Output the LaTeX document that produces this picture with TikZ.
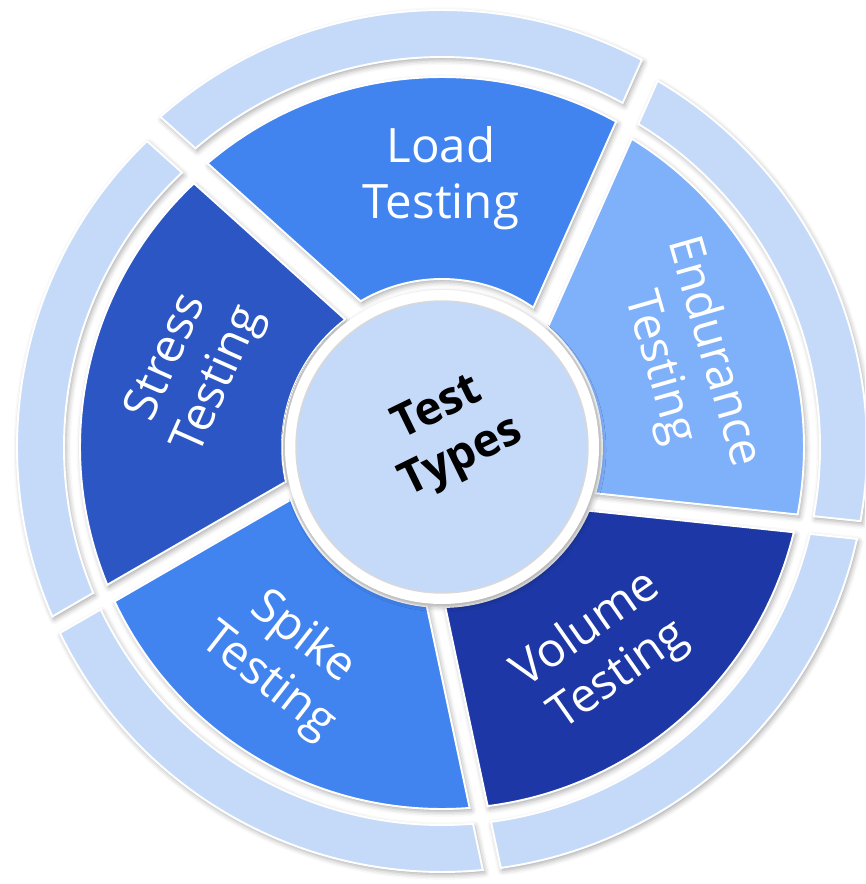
\documentclass[tikz,border=0pt]{standalone}
\usepackage{fontspec}
\setmainfont{Open Sans}
\usepackage{xcolor}
\usepackage{tikz}
\usetikzlibrary{shadows.blur}

\definecolor{ringblue}{RGB}{197,218,248}
\definecolor{loadblue}{RGB}{65,132,240}
\definecolor{endblue}{RGB}{127,176,250}
\definecolor{volblue}{RGB}{29,56,166}
\definecolor{stressblue}{RGB}{43,86,196}

% the five cuts are straight lines passing 39 units from the centre;
% each part keeps half of an 18 unit gap on either side
\newcommand{\cutlo}{30}
\newcommand{\cuthi}{48}
% #1 = index of the part, #2 = inner radius, #3 = outer radius
\newcommand{\ringpiece}[3]{%
  ({-24+72*#1+acos(\cutlo/#2)}:#2)
  -- ({-24+72*#1+acos(\cutlo/#3)}:#3)
  arc[start angle={-24+72*#1+acos(\cutlo/#3)}, end angle={48+72*#1+acos(\cuthi/#3)}, radius=#3]
  -- ({48+72*#1+acos(\cuthi/#2)}:#2)
  arc[start angle={48+72*#1+acos(\cuthi/#2)}, end angle={-24+72*#1+acos(\cutlo/#2)}, radius=#2]
  -- cycle}

\begin{document}
\begin{tikzpicture}[
    scale=0.02,
    ringpart/.style={draw=white, line width=1.1pt, blur shadow={shadow xshift=1pt, shadow yshift=-1.5pt, shadow blur radius=3pt, shadow opacity=35}},
    seglabel/.style={text=white, font=\fontsize{27}{32}\selectfont, align=center},
    hubtext/.style={text=black, font=\fontsize{26}{31}\selectfont\bfseries, align=center}
]
\useasboundingbox (-442,447) rectangle (423,-437);
\clip (-442,447) rectangle (423,-437);

% outer ring
\path[ringpart, fill=ringblue, shift={(0,12)}] \ringpiece{0}{378}{425};
\foreach \k in {1,...,4}
  \path[ringpart, fill=ringblue] \ringpiece{\k}{378}{425};

% the five test types
\path[ringpart, fill=loadblue, shift={(0,8)}] \ringpiece{0}{160}{362};
\path[ringpart, fill=stressblue] \ringpiece{1}{160}{362};
\path[ringpart, fill=loadblue] \ringpiece{2}{160}{362};
\path[ringpart, fill=volblue] \ringpiece{3}{160}{362};
\path[ringpart, fill=endblue] \ringpiece{4}{160}{362};

% hub
\fill[white, blur shadow={shadow xshift=1pt, shadow yshift=-1.5pt, shadow blur radius=3pt, shadow opacity=35}] (0,0) circle (157);
\path[fill=ringblue, draw=black!15, line width=0.8pt] (0,0) circle (146);

\node[seglabel] (load) at (-1,269) {Load\\Testing};
\node[seglabel, rotate=-74] (endurance) at (244,87) {Endurance\\Testing};
\node[seglabel, rotate=35] (volume) at (161,-206) {Volume\\Testing};
\node[seglabel, rotate=-38] (spike) at (-157,-213) {Spike\\Testing};
\node[seglabel, rotate=66] (stress) at (-248,78) {Stress\\Testing};
\node[hubtext, rotate=26] (types) at (8,13) {Test\\Types};
\end{tikzpicture}
\end{document}
